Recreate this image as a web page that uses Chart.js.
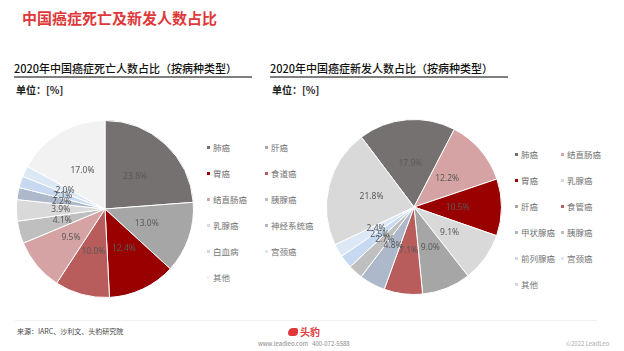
<!DOCTYPE html>
<html>
<head>
<meta charset="utf-8">
<script src="https://cdn.jsdelivr.net/npm/chart.js@4.4.0/dist/chart.umd.min.js"></script>
<style>
  body { margin: 0; background: #fff; font-family: "Noto Sans CJK SC", "Noto Sans", sans-serif; }
  #page { position: relative; width: 624px; height: 351px; overflow: hidden; background: #fff; }
  .abs { position: absolute; white-space: nowrap; }
  #title { left: 22px; top: 7px; font-size: 15px; color: #e0383a; font-weight: bold; }
  .sub { font-size: 11px; color: #111; font-weight: 500; }
  .rule { height: 2px; background: #7f7f7f; }
  .unit { font-size: 10px; color: #222; font-weight: bold; }
  .legend { display: grid; grid-template-columns: auto auto; font-size: 8.5px; color: #737373; }
  .legend div { height: 26px; line-height: 10px; display: flex; align-items: flex-start; }
  .legend i { display: inline-block; width: 3px; height: 3px; margin: 4px 3px 0 0; }
  .foot { font-size: 7px; color: #444; }
</style>
</head>
<body>
<div id="page">
  <div id="title" class="abs">中国癌症死亡及新发人数占比</div>

  <div class="abs sub" style="left:14px;top:60px;">2020年中国癌症死亡人数占比（按病种类型）</div>
  <div class="abs rule" style="left:14px;top:76px;width:238px;"></div>
  <div class="abs unit" style="left:16px;top:82px;">单位：[%]</div>

  <div class="abs sub" style="left:270px;top:60px;">2020年中国癌症新发人数占比（按病种类型）</div>
  <div class="abs rule" style="left:270px;top:76px;width:238px;"></div>
  <div class="abs unit" style="left:272px;top:82px;">单位：[%]</div>

  <div class="abs" style="left:16px;top:120px;width:178px;height:178px;"><canvas id="deathChart"></canvas></div>
  <div class="abs" style="left:326px;top:119px;width:176px;height:176px;"><canvas id="newChart"></canvas></div>

  <div id="deathLegend" class="abs legend" style="left:207px;top:142px;grid-template-columns:58px auto;"></div>
  <div id="newLegend" class="abs legend" style="left:515px;top:149px;grid-template-columns:46px auto;"></div>

  <div class="abs" style="left:15px;top:320px;width:582px;height:1px;background:#f0f0f0;"></div>
  <div class="abs foot" style="left:17px;top:326px;">来源：IARC、沙利文、头豹研究院</div>
  <div class="abs" style="left:288px;top:328px;width:10px;height:8px;background:#e0383a;border-radius:5px 2px 4px 3px;"></div>
  <div class="abs" style="left:300px;top:324px;font-size:10px;color:#e0383a;font-weight:bold;">头豹</div>
  <div class="abs" style="left:258px;top:339px;font-size:6px;color:#888;">www.leadleo.com &nbsp; 400-072-5588</div>
  <div class="abs" style="left:566px;top:339px;font-size:6px;color:#aaa;">©2022 LeadLeo</div>
</div>

<script>
// 2020 deaths by cancer type (%)
const deathLabels = ["肺癌", "肝癌", "胃癌", "食道癌", "结直肠癌", "胰腺癌", "乳腺癌", "神经系统癌", "白血病", "宫颈癌", "其他"];
const deathValues = [23.8, 13.0, 12.4, 10.0, 9.5, 4.1, 3.9, 2.2, 2.1, 2.0, 17.0];
const deathColors = ["#767171", "#a6a6a6", "#990000", "#b85c5c", "#d5a3a3", "#bfbfbf", "#d9d9d9", "#adb9ca", "#c6d9f1", "#dde8f6", "#f2f2f2"];

// 2020 new cases by cancer type (%)
const newLabels = ["肺癌", "结直肠癌", "胃癌", "乳腺癌", "肝癌", "食管癌", "甲状腺癌", "胰腺癌", "前列腺癌", "宫颈癌", "其他"];
const newValues = [17.9, 12.2, 10.5, 9.1, 9.0, 7.1, 4.8, 2.7, 2.5, 2.4, 21.8];
const newColors = ["#767171", "#d5a3a3", "#990000", "#d9d9d9", "#a6a6a6", "#b85c5c", "#adb9ca", "#bfbfbf", "#c6d9f1", "#dde8f6", "#d9d9d9"];

// draw "xx.x%" at the middle of each slice
const sliceLabels = {
  id: "sliceLabels",
  afterDatasetsDraw(chart) {
    const ctx = chart.ctx;
    const ds = chart.data.datasets[0];
    ctx.save();
    ctx.font = "8.5px 'Noto Sans', sans-serif";
    ctx.fillStyle = "#595959";
    ctx.textAlign = "center";
    ctx.textBaseline = "middle";
    chart.getDatasetMeta(0).data.forEach(function (arc, i) {
      const p = arc.tooltipPosition();
      ctx.fillText(ds.data[i].toFixed(1) + "%", p.x, p.y);
    });
    ctx.restore();
  }
};

function makePie(id, labels, values, colors, rotation) {
  return new Chart(document.getElementById(id), {
    type: "pie",
    data: {
      labels: labels,
      datasets: [{
        data: values,
        backgroundColor: colors,
        borderColor: "#ffffff",
        borderWidth: 1
      }]
    },
    options: {
      responsive: true,
      maintainAspectRatio: false,
      animation: false,
      rotation: rotation,
      layout: { padding: 0 },
      plugins: {
        legend: { display: false },
        tooltip: { enabled: false }
      }
    },
    plugins: [sliceLabels]
  });
}

function makeLegend(id, labels, colors) {
  const box = document.getElementById(id);
  labels.forEach(function (l, i) {
    const d = document.createElement("div");
    d.innerHTML = '<i style="background:' + colors[i] + '"></i>' + l;
    box.appendChild(d);
  });
}

makePie("deathChart", deathLabels, deathValues, deathColors, 0);
makePie("newChart", newLabels, newValues, newColors, -37);
makeLegend("deathLegend", deathLabels, deathColors);
makeLegend("newLegend", newLabels, newColors);
</script>
</body>
</html>
